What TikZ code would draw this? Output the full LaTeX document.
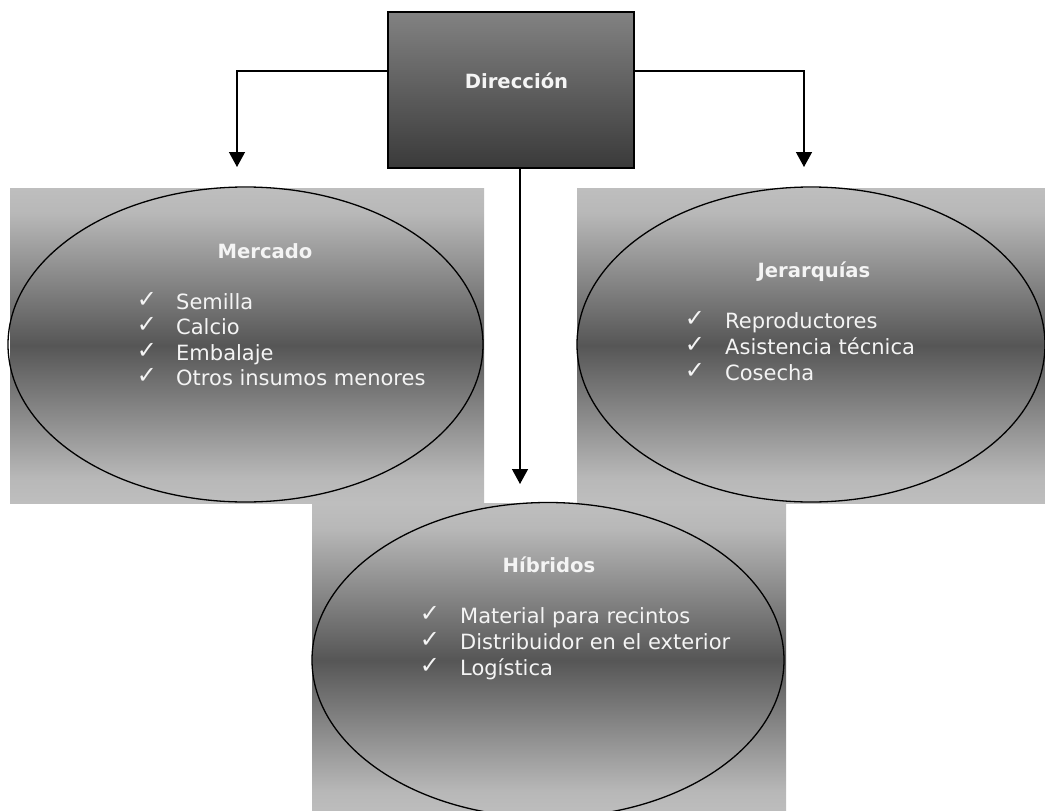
\documentclass[tikz,border=0pt]{standalone}
\usepackage{fontspec}
\setmainfont{DejaVu Sans}
\usetikzlibrary{arrows.meta,shapes.geometric}

\definecolor{panellight}{HTML}{BEBEBE}
\definecolor{panelmid}{HTML}{B8B8B8}
\definecolor{paneldark}{HTML}{565656}
\definecolor{bosstop}{HTML}{828282}
\definecolor{bossbottom}{HTML}{3A3A3A}
\definecolor{label}{HTML}{F4F4F4}

% light - dark - light band used behind every group
\pgfdeclareverticalshading{panelshade}{100bp}{%
  color(0bp)=(panellight); color(25bp)=(panellight); color(29bp)=(panelmid);
  color(50bp)=(paneldark);
  color(71bp)=(panelmid); color(75bp)=(panellight); color(100bp)=(panellight)}

\tikzset{
  panel/.style={shading=panelshade},
  ring/.style={draw=black, line width=1.3pt, ellipse, inner sep=0pt, minimum height=315pt},
  boss/.style={draw=black, line width=1.6pt, top color=bosstop, bottom color=bossbottom,
    minimum width=246pt, minimum height=156pt, inner sep=0pt},
  head/.style={font=\bfseries\fontsize{19.6}{23}\selectfont, text=label, anchor=base, inner sep=0pt},
  itemtext/.style={font=\fontsize{21}{25}\selectfont, text=label, anchor=base west, inner sep=0pt},
  tick/.style={font=\fontsize{24}{28}\selectfont, text=label, anchor=base, inner sep=0pt},
  link/.style={draw=black, line width=1.4pt, -{Triangle[length=15pt,width=16pt]}}
}

\begin{document}
\begin{tikzpicture}[x=1pt,y=-1pt]
  \useasboundingbox (0,0) rectangle (1045,811);
  \fill[white] (0,0) rectangle (1045,811);

  % shaded backgrounds
  \shade[panel] (10,188) rectangle (484,503);
  \shade[panel] (577,188) rectangle (1045,503);
  \shade[panel] (312,503) rectangle (786,817);

  % group outlines
  \node[ring, minimum width=475pt] (mercado) at (245.5,344.5) {};
  \node[ring, minimum width=468pt] (jerarquias) at (811,344.5) {};
  \node[ring, minimum width=472pt] (hibridos) at (548,660) {};

  % top box
  \node[boss] (direccion) at (511,90) {};
  \node[head] (direccionlabel) at (516.5,88) {Dirección};

  % connectors
  \coordinate (lefttip) at (237,167);
  \coordinate (righttip) at (804,167);
  \coordinate (midtip) at (520,484);
  \draw[link] ([yshift=19pt]direccion.west) -| (lefttip);
  \draw[link] ([yshift=19pt]direccion.east) -| (righttip);
  \draw[link] (direccion.south -| midtip) -- (midtip);

  % Mercado
  \node[head] (mercadohead) at (265,258) {Mercado};
  \foreach \t [count=\i] in {Semilla, Calcio, Embalaje, Otros insumos menores}{
    \node[tick] (mercadotick\i) at (147,{307+25.5*(\i-1)}) {✓};
    \node[itemtext] (mercadoitem\i) at (176,{309+25.5*(\i-1)}) {\t};
  }

  % Jerarquías
  \node[head] (jerarquiashead) at (814,277) {Jerarquías};
  \foreach \t [count=\i] in {Reproductores, Asistencia técnica, Cosecha}{
    \node[tick] (jerarquiastick\i) at (695,{326+26*(\i-1)}) {✓};
    \node[itemtext] (jerarquiasitem\i) at (725,{328+26*(\i-1)}) {\t};
  }

  % Híbridos
  \node[head] (hibridoshead) at (549,572) {Híbridos};
  \foreach \t [count=\i] in {Material para recintos, Distribuidor en el exterior, Logística}{
    \node[tick] (hibridostick\i) at (430,{621+26*(\i-1)}) {✓};
    \node[itemtext] (hibridositem\i) at (460,{623+26*(\i-1)}) {\t};
  }
\end{tikzpicture}
\end{document}
